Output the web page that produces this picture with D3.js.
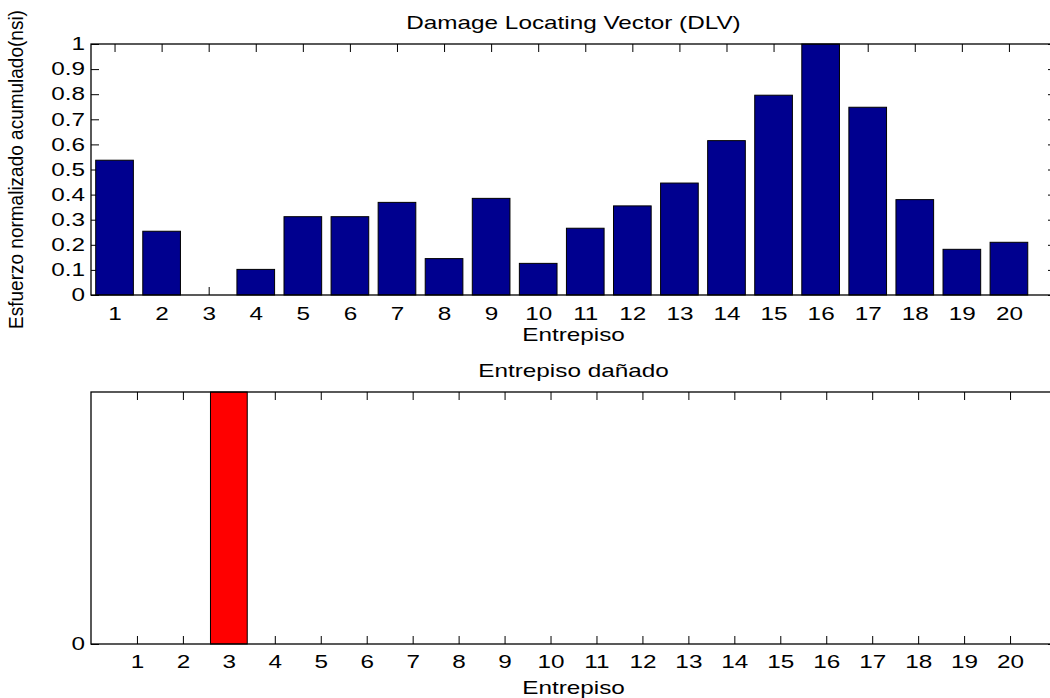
<!DOCTYPE html>
<html>
<head>
<meta charset="utf-8">
<script src="https://cdn.jsdelivr.net/npm/d3@7"></script>
<style>
  html, body { margin: 0; padding: 0; background: #fff; }
  svg { display: block; }
  text { font-family: "Liberation Sans", Arial, sans-serif; fill: #000; }
</style>
</head>
<body>
<svg id="fig" width="1050" height="698"></svg>
<script>
// Story numbers (Entrepiso)
const categories = [1, 2, 3, 4, 5, 6, 7, 8, 9, 10, 11, 12, 13, 14, 15, 16, 17, 18, 19, 20];
// Damage Locating Vector: normalized cumulative stress index per story
const dlvValues = [0.537, 0.254, 0, 0.102, 0.312, 0.312, 0.369, 0.145, 0.385, 0.126,
                   0.266, 0.355, 0.446, 0.615, 0.796, 1.0, 0.748, 0.380, 0.182, 0.210];
// Damaged story indicator
const damagedValues = [0, 0, 1, 0, 0, 0, 0, 0, 0, 0, 0, 0, 0, 0, 0, 0, 0, 0, 0, 0];
// Tick labels
const dlvTicks = [0, 0.1, 0.2, 0.3, 0.4, 0.5, 0.6, 0.7, 0.8, 0.9, 1];
const damagedTicks = [0];

const FONT = 18;      // label font size
const SX = 1.35;      // horizontal glyph stretch
const TICK = 8;       // inward tick length

const svg = d3.select("#fig");
svg.append("rect").attr("width", 1050).attr("height", 698).attr("fill", "#fff");

function stretchTicks(g) {
  g.selectAll(".tick text")
    .attr("font-size", FONT)
    .attr("font-family", "Liberation Sans, Arial, sans-serif")
    .attr("fill", "#000")
    .attr("transform", `scale(${SX},1)`);
  g.selectAll(".tick line").attr("stroke", "#000");
  g.select(".domain").remove();
}

function panel(opts) {
  const { left, right, top, bottom, xDomain, values, color, yTicks, title, titleY, tickLabelPad, xlabelY } = opts;
  const x = d3.scaleLinear().domain(xDomain).range([left, right]);
  const y = d3.scaleLinear().domain([0, 1]).range([bottom, top]);
  const g = svg.append("g");

  // tick marks (inward, behind the bars)
  g.append("g").attr("transform", `translate(0,${bottom})`)
    .call(d3.axisBottom(x).tickValues(categories).tickSize(-TICK).tickPadding(tickLabelPad).tickFormat(d3.format("d")))
    .call(stretchTicks);
  g.append("g").attr("transform", `translate(0,${top})`)
    .call(d3.axisTop(x).tickValues(categories).tickSize(-TICK).tickFormat(""))
    .call(stretchTicks);
  g.append("g").attr("transform", `translate(${left},0)`)
    .call(d3.axisLeft(y).tickValues(yTicks).tickSize(-TICK).tickPadding(6 / SX).tickFormat(d => d3.format("~g")(d)))
    .call(stretchTicks);
  g.append("g").attr("transform", `translate(${right},0)`)
    .call(d3.axisRight(y).tickValues(yTicks).tickSize(-TICK).tickFormat(""))
    .call(stretchTicks);

  // bars
  g.append("g").selectAll("rect")
    .data(categories.map((c, i) => ({ c, v: values[i] })))
    .join("rect")
    .attr("x", d => x(d.c - 0.4))
    .attr("width", d => x(d.c + 0.4) - x(d.c - 0.4))
    .attr("y", d => y(d.v))
    .attr("height", d => y(0) - y(d.v))
    .attr("fill", color)
    .attr("stroke", "#000")
    .attr("stroke-width", 1);

  // axes frame
  g.append("rect")
    .attr("x", left).attr("y", top)
    .attr("width", right - left).attr("height", bottom - top)
    .attr("fill", "none").attr("stroke", "#000").attr("stroke-width", 1.3);

  const cx = (left + 1056) / 2;
  g.append("text").attr("transform", `translate(${cx},${titleY}) scale(${SX},1)`)
    .attr("text-anchor", "middle").attr("font-size", FONT).text(title);
  g.append("text").attr("transform", `translate(${cx},${xlabelY}) scale(${SX},1)`)
    .attr("text-anchor", "middle").attr("font-size", FONT).text("Entrepiso");
  return { x, y };
}

panel({
  left: 91, right: 1056, top: 44, bottom: 295,
  xDomain: [0.5, 21], values: dlvValues, color: "#00008F",
  yTicks: dlvTicks, title: "Damage Locating Vector (DLV)", titleY: 29,
  tickLabelPad: 12, xlabelY: 341
});

panel({
  left: 91, right: 1056, top: 392, bottom: 644,
  xDomain: [0, 21], values: damagedValues, color: "#FF0000",
  yTicks: damagedTicks, title: "Entrepiso dañado", titleY: 377,
  tickLabelPad: 11, xlabelY: 694
});

// y-axis label of the upper panel
svg.append("text")
  .attr("transform", `translate(23,169.5) scale(1.1,1) rotate(-90)`)
  .attr("text-anchor", "middle")
  .attr("font-size", 19)
  .text("Esfuerzo normalizado acumulado(nsi)");
</script>
</body>
</html>
